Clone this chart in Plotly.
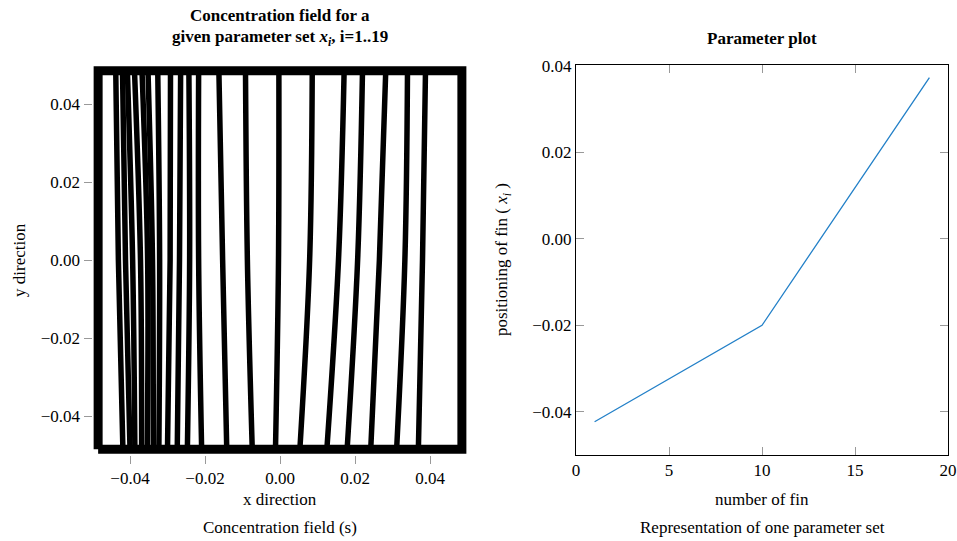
import plotly.graph_objects as go

W, H = 957, 541

# ---------------- data ----------------
# Left panel: fin centre-lines (x at top, middle and bottom of the domain)
fin_x_top = [-0.0438, -0.0420, -0.0407, -0.0388, -0.0368, -0.0352, -0.0326, -0.0292, -0.0265, -0.0243, -0.0217,
             -0.0163, -0.0092, -0.0003, 0.0086, 0.0171, 0.0220, 0.0282, 0.0340, 0.0388]
fin_x_mid = [-0.0431, -0.0412, -0.0393, -0.0372, -0.0353, -0.0340, -0.0321, -0.0293, -0.0268, -0.0241, -0.0217,
             -0.0153, -0.0087, -0.0004, 0.0079, 0.0156, 0.0207, 0.0265, 0.0333, 0.0380]
fin_x_bot = [-0.0419, -0.0400, -0.0387, -0.0369, -0.0354, -0.0338, -0.0323, -0.0300, -0.0274, -0.0247, -0.0209,
             -0.0142, -0.0074, -0.0012, 0.0053, 0.0125, 0.0179, 0.0242, 0.0311, 0.0369]
fin_y = [0.0485, 0.0, -0.0485]
rect_x = [-0.0485, 0.0485, 0.0485, -0.0485, -0.0485]
rect_y = [-0.0485, -0.0485, 0.0485, 0.0485, -0.0485]

# Right panel: parameter plot
fin_number = [1, 10, 19]
fin_position = [-0.0423, -0.0200, 0.0373]

left_ticks = [-0.04, -0.02, 0.0, 0.02, 0.04]
right_xticks = [0, 5, 10, 15, 20]
right_yticks = [-0.04, -0.02, 0.0, 0.02, 0.04]

# ---------------- figure ----------------
def px(x):
    return x / W

def py(y):
    return 1 - y / H

FONT = "Liberation Serif"
FS = 17
fig = go.Figure()

for xt, xm, xb in zip(fin_x_top, fin_x_mid, fin_x_bot):
    fig.add_trace(go.Scatter(x=[xt, xm, xb], y=fin_y, mode="lines",
                             line=dict(color="black", width=5.5, shape="spline"),
                             xaxis="x", yaxis="y", showlegend=False, hoverinfo="skip"))
fig.add_trace(go.Scatter(x=rect_x, y=rect_y, mode="lines",
                         line=dict(color="black", width=9),
                         xaxis="x", yaxis="y", showlegend=False, hoverinfo="skip"))

fig.add_trace(go.Scatter(x=fin_number, y=fin_position, mode="lines",
                         line=dict(color="#2380c8", width=1.3),
                         xaxis="x2", yaxis="y2", showlegend=False))

ydom = [py(455), py(65)]
tickfont = dict(family=FONT, size=FS, color="black")
fig.update_layout(
    width=W, height=H, margin=dict(l=0, r=0, t=0, b=0, autoexpand=False),
    paper_bgcolor="white", plot_bgcolor="white",
    xaxis=dict(domain=[px(92.5), px(467.5)], range=[-0.05, 0.05], tickvals=left_ticks,
               tickformat=".2f", ticks="outside", ticklen=8, tickcolor="#999999",
               showgrid=False, zeroline=False, showline=False, tickfont=tickfont,
               anchor="y", automargin=False),
    yaxis=dict(domain=ydom, range=[-0.05, 0.05], tickvals=left_ticks,
               tickformat=".2f", ticks="outside", ticklen=8, tickcolor="#999999",
               showgrid=False, zeroline=False, showline=False, tickfont=tickfont,
               anchor="x", automargin=False),
    xaxis2=dict(domain=[px(576), px(948)], range=[0, 20], tickvals=right_xticks,
                ticks="inside", ticklen=8, tickcolor="#999999", mirror="allticks",
                showline=True, linecolor="black", linewidth=1,
                showgrid=False, zeroline=False, tickfont=tickfont, anchor="y2", automargin=False),
    yaxis2=dict(domain=ydom, range=[-0.05, 0.0402], tickvals=right_yticks, tickformat=".2f",
                ticks="inside", ticklen=8, tickcolor="#999999", mirror="allticks",
                showline=True, linecolor="black", linewidth=1,
                showgrid=False, zeroline=False, tickfont=tickfont, anchor="x2", automargin=False),
)

def ann(text, x, y, size=FS, bold=False, angle=0):
    if bold:
        text = "<b>" + text + "</b>"
    fig.add_annotation(text=text, x=px(x), y=py(y), xref="paper", yref="paper",
                       showarrow=False, textangle=angle, xanchor="center", yanchor="middle",
                       font=dict(family=FONT, size=size, color="black"))

ann("Concentration field for a", 280, 15, bold=True)
ann("given parameter set <i>x<sub>i</sub></i>, i=1..19", 280, 38, bold=True)
ann("Parameter plot", 762, 38, bold=True)
ann("x direction", 280, 499)
ann("y direction", 19, 260, angle=-90)
ann("Concentration field (s)", 280, 527)
ann("number of fin", 762, 499)
ann("positioning of fin ( <i>x<sub>i</sub></i> )", 503, 260, angle=-90)
ann("Representation of one parameter set", 762, 527)

fig.write_html("out.html")
